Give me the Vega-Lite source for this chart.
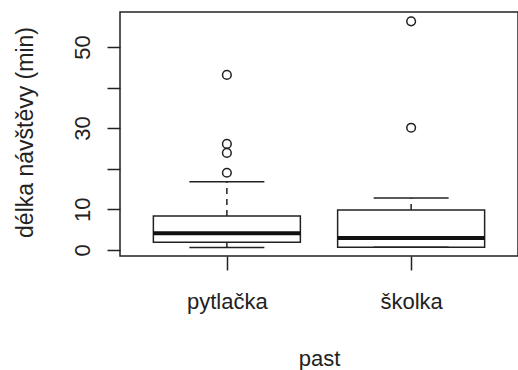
{
  "$schema": "https://vega.github.io/schema/vega-lite/v6.json",
  "width": 398,
  "height": 244,
  "autosize": {"type": "none"},
  "padding": {"left": 120, "top": 12, "right": 0, "bottom": 114},
  "background": "white",
  "config": {
    "view": {"stroke": "#222", "strokeWidth": 1.5},
    "font": "Liberation Sans",
    "axis": {
      "labelFont": "Liberation Sans",
      "titleFont": "Liberation Sans",
      "labelColor": "#222",
      "titleColor": "#222",
      "tickColor": "#222",
      "tickWidth": 1.5,
      "grid": false,
      "domain": false,
      "titleFontWeight": "normal"
    }
  },
  "datasets": {
    "boxes": [
      {"past": "pytlačka", "lower": 0.57, "q1": 1.9, "median": 4.1, "q3": 8.36, "upper": 16.8},
      {"past": "školka", "lower": 0.66, "q1": 0.66, "median": 2.95, "q3": 9.84, "upper": 12.8}
    ],
    "outliers": [
      {"past": "pytlačka", "value": 19.0},
      {"past": "pytlačka", "value": 23.9},
      {"past": "pytlačka", "value": 26.1},
      {"past": "pytlačka", "value": 43.1},
      {"past": "školka", "value": 30.1},
      {"past": "školka", "value": 56.3}
    ]
  },
  "encoding": {
    "x": {
      "field": "past",
      "type": "nominal",
      "sort": ["pytlačka", "školka"],
      "scale": {"type": "point", "padding": 0.58},
      "axis": {
        "title": "past",
        "labelAngle": 0,
        "labelFontSize": 22,
        "titleFontSize": 22,
        "tickSize": 14,
        "labelPadding": 21,
        "titlePadding": 36
      }
    }
  },
  "layer": [
    {
      "data": {"name": "boxes"},
      "mark": {"type": "rule", "color": "#222", "strokeWidth": 1.5, "strokeDash": [6, 5]},
      "encoding": {
        "y": {
          "field": "q3",
          "type": "quantitative",
          "scale": {"domain": [-1.5, 58.6], "nice": false, "zero": false},
          "axis": {
            "title": "délka návštěvy (min)",
            "values": [0, 10, 20, 30, 40, 50],
            "labelExpr": "datum.value == 20 || datum.value == 40 ? '' : datum.label",
            "labelAngle": 270,
            "labelAlign": "center",
            "labelBaseline": "alphabetic",
            "labelFontSize": 22,
            "labelPadding": 18,
            "tickSize": 13,
            "titleFontSize": 23,
            "titleX": -95,
            "titleY": 120,
            "titleBaseline": "middle",
            "titleAlign": "center"
          }
        },
        "y2": {"field": "upper"}
      }
    },
    {
      "data": {"name": "boxes"},
      "mark": {"type": "rule", "color": "#222", "strokeWidth": 1.5, "strokeDash": [6, 5]},
      "encoding": {
        "y": {"field": "lower", "type": "quantitative"},
        "y2": {"field": "q1"}
      }
    },
    {
      "data": {"name": "boxes"},
      "mark": {"type": "bar", "fill": "white", "stroke": "#222", "strokeWidth": 1.5, "size": 147},
      "encoding": {
        "y": {"field": "q1", "type": "quantitative"},
        "y2": {"field": "q3"}
      }
    },
    {
      "data": {"name": "boxes"},
      "mark": {"type": "tick", "color": "#111", "size": 147, "thickness": 4, "opacity": 1},
      "encoding": {
        "y": {"field": "median", "type": "quantitative"}
      }
    },
    {
      "data": {"name": "boxes"},
      "mark": {"type": "tick", "color": "#222", "size": 75, "thickness": 1.5, "opacity": 1},
      "encoding": {
        "y": {"field": "upper", "type": "quantitative"}
      }
    },
    {
      "data": {"name": "boxes"},
      "mark": {"type": "tick", "color": "#222", "size": 75, "thickness": 1.5, "opacity": 1},
      "encoding": {
        "y": {"field": "lower", "type": "quantitative"}
      }
    },
    {
      "data": {"name": "outliers"},
      "mark": {"type": "point", "shape": "circle", "filled": false, "color": "#222", "size": 75, "strokeWidth": 1.5, "opacity": 1},
      "encoding": {
        "y": {"field": "value", "type": "quantitative"}
      }
    }
  ]
}
